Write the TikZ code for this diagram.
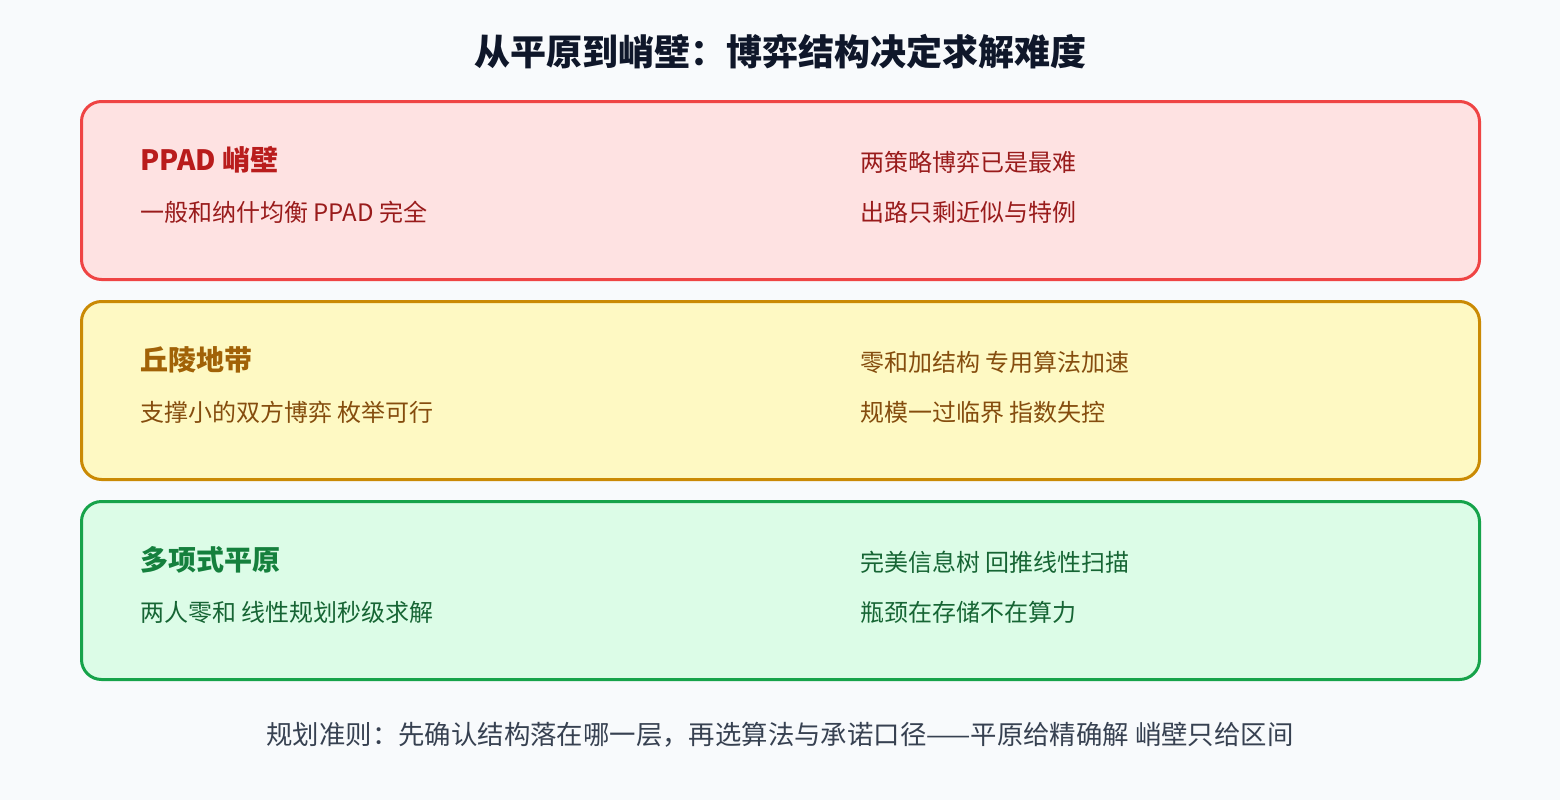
\documentclass[tikz,border=0pt]{standalone}
\usepackage{fontspec}
\setmainfont{Noto Sans CJK SC}
\usetikzlibrary{positioning}

\definecolor{bgpage}{HTML}{F8FAFC}
\definecolor{titleink}{HTML}{0F172A}
\definecolor{noteink}{HTML}{374151}
\definecolor{cliffline}{HTML}{EF4444}
\definecolor{clifffill}{HTML}{FEE2E2}
\definecolor{cliffhead}{HTML}{B91C1C}
\definecolor{cliffink}{HTML}{991B1B}
\definecolor{hillline}{HTML}{CA8A04}
\definecolor{hillfill}{HTML}{FEF9C3}
\definecolor{hillhead}{HTML}{A16207}
\definecolor{hillink}{HTML}{854D0E}
\definecolor{plainline}{HTML}{16A34A}
\definecolor{plainfill}{HTML}{DCFCE7}
\definecolor{plainhead}{HTML}{15803D}
\definecolor{plainink}{HTML}{166534}

\begin{document}
\begin{tikzpicture}[x=1pt,y=-1pt,inner sep=0pt]
      \tikzstyle{layer}=[draw,line width=3pt,rounded corners=20pt,minimum width=1398pt,minimum height=178pt,anchor=north west]
      \tikzstyle{head}=[anchor=west,font=\fontsize{28}{32}\selectfont\bfseries]
      \tikzstyle{line}=[anchor=west,font=\fontsize{24}{28}\selectfont]

      \fill[bgpage] (0,0) rectangle (1560,800);
      \useasboundingbox (0,0) rectangle (1560,800);

      \node[font=\fontsize{36}{42}\selectfont\bfseries,text=titleink] (title) at (780,52) {从平原到峭壁：博弈结构决定求解难度};

      % three layers, hardest on top
      \node[layer,draw=cliffline,fill=clifffill] (cliff) at (80,100) {};
      \node[layer,draw=hillline,fill=hillfill]   (hill)  at (80,300) {};
      \node[layer,draw=plainline,fill=plainfill] (plain) at (80,500) {};

      \node[head,text=cliffhead] (cliffA) at (140,160) {PPAD 峭壁};
      \node[line,text=cliffink]  (cliffB) at (140,212) {一般和纳什均衡 PPAD 完全};
      \node[line,text=cliffink]  (cliffC) at (860,162) {两策略博弈已是最难};
      \node[line,text=cliffink]  (cliffD) at (860,212) {出路只剩近似与特例};

      \node[head,text=hillhead] (hillA) at (140,360) {丘陵地带};
      \node[line,text=hillink]  (hillB) at (140,412) {支撑小的双方博弈 枚举可行};
      \node[line,text=hillink]  (hillC) at (860,362) {零和加结构 专用算法加速};
      \node[line,text=hillink]  (hillD) at (860,412) {规模一过临界 指数失控};

      \node[head,text=plainhead] (plainA) at (140,560) {多项式平原};
      \node[line,text=plainink]  (plainB) at (140,612) {两人零和 线性规划秒级求解};
      \node[line,text=plainink]  (plainC) at (860,562) {完美信息树 回推线性扫描};
      \node[line,text=plainink]  (plainD) at (860,612) {瓶颈在存储不在算力};

      \node[font=\fontsize{26.4}{30}\selectfont,text=noteink] (rule) at (780,735) {规划准则：先确认结构落在哪一层，再选算法与承诺口径——平原给精确解 峭壁只给区间};
\end{tikzpicture}
\end{document}
